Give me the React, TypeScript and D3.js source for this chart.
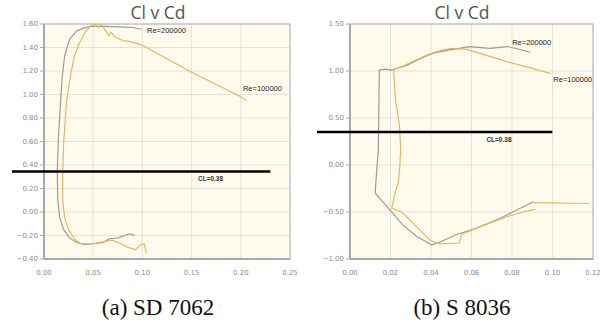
import * as d3 from "d3";

type Pt = [number, number] | null;

// SD 7062 polars (Cd, Cl)
const sdRe200k: Pt[] = [
  [0.099, 1.555], [0.09, 1.57], [0.075, 1.575], [0.06, 1.58], [0.048, 1.58],
  [0.04, 1.565], [0.033, 1.54], [0.026, 1.47], [0.021, 1.33], [0.0185, 1.15],
  [0.0165, 0.9], [0.0145, 0.6], [0.0135, 0.35], [0.014, 0.1], [0.016, -0.05],
  [0.02, -0.15], [0.026, -0.22], [0.033, -0.26], [0.04, -0.275], [0.05, -0.27],
  [0.06, -0.26], [0.066, -0.23], [0.075, -0.22], [0.082, -0.2], [0.087, -0.185], [0.092, -0.2],
];
const sdRe100k: Pt[] = [
  [0.206, 0.95], [0.2, 0.98], [0.15, 1.19], [0.1, 1.42], [0.088, 1.45], [0.08, 1.46],
  [0.072, 1.49], [0.068, 1.53], [0.066, 1.5], [0.062, 1.55], [0.058, 1.6], [0.055, 1.57],
  [0.052, 1.6], [0.047, 1.58], [0.042, 1.53], [0.036, 1.44], [0.031, 1.33], [0.027, 1.17],
  [0.023, 0.95], [0.02, 0.6], [0.019, 0.3], [0.019, 0.1], [0.021, -0.05], [0.025, -0.15],
  [0.031, -0.23], [0.037, -0.27], [0.05, -0.27], [0.062, -0.25], [0.07, -0.24],
  [0.078, -0.27], [0.085, -0.3], [0.093, -0.32], [0.098, -0.28], [0.102, -0.27], [0.104, -0.35],
];

// S 8036 polars (Cd, Cl)
const sRe200k: Pt[] = [
  [0.089, 1.2], [0.082, 1.24], [0.0775, 1.26], [0.069, 1.24], [0.059, 1.26], [0.054, 1.24],
  [0.0478, 1.22], [0.041, 1.19], [0.0346, 1.13], [0.028, 1.06], [0.0206, 1.01], [0.0173, 1.02],
  [0.0145, 1.01], [0.0143, 0.69], [0.014, 0.16], [0.0132, -0.05], [0.0124, -0.3],
  [0.0198, -0.48], [0.0262, -0.64], [0.033, -0.76], [0.0404, -0.85], [0.0445, -0.82],
  [0.0527, -0.74], [0.0626, -0.67], [0.074, -0.57], [0.0906, -0.39],
];
const sRe100k: Pt[] = [
  [0.099, 0.975], [0.0775, 1.1], [0.0577, 1.23], [0.05, 1.24], [0.045, 1.22], [0.038, 1.17],
  [0.031, 1.1], [0.026, 1.05], [0.022, 1.02], [0.0215, 1.0], [0.0225, 0.69], [0.0245, 0.41],
  [0.025, 0.16], [0.0245, -0.05], [0.0238, -0.19], [0.0222, -0.3], [0.0206, -0.46],
  [0.0256, -0.5], [0.033, -0.66], [0.0396, -0.8], [0.0445, -0.84], [0.054, -0.83],
  [0.055, -0.74], [0.064, -0.66], [0.0775, -0.55], [0.0856, -0.5], [0.0915, -0.47],
  null, [0.0906, -0.4], [0.118, -0.41],
];

const sdXTicks = [0, 0.05, 0.1, 0.15, 0.2, 0.25];
const sdYTicks = [-0.4, -0.2, 0, 0.2, 0.4, 0.6, 0.8, 1.0, 1.2, 1.4, 1.6];
const sXTicks = [0, 0.02, 0.04, 0.06, 0.08, 0.1, 0.12];
const sYTicks = [-1, -0.5, 0, 0.5, 1, 1.5];

const grey = "#9a9a8a";
const orange = "#e9b35e";

type Label = { text: string; x: number; y: number };
type ChartProps = {
  left: number;
  right: number;
  xTicks: number[];
  yTicks: number[];
  series: { data: Pt[]; color: string }[];
  labels: Label[];
  clLine: { y: number; x0: number; x1: number };
  titleX: number;
  caption: string;
};

const top = 24;
const bottom = 259;
const fmt = d3.format(".2f");

function Chart({ left, right, xTicks, yTicks, series, labels, clLine, titleX, caption }: ChartProps) {
  const x = d3.scaleLinear().domain(d3.extent(xTicks) as [number, number]).range([left, right]);
  const y = d3.scaleLinear().domain(d3.extent(yTicks) as [number, number]).range([bottom, top]);
  const line = d3
    .line<Pt>()
    .defined((d) => d !== null)
    .x((d) => x(d![0]))
    .y((d) => y(d![1]));
  const tickFont = { fontFamily: "DejaVu Sans", fontSize: 7, fill: "#8c8c8c" };
  return (
    <g>
      <text x={titleX} y={19} textAnchor="middle" fontFamily="Open Sans" fontSize={17.5} fill="#555">
        Cl v Cd
      </text>
      <rect x={left} y={top} width={right - left} height={bottom - top} fill="#fffbec" />
      {xTicks.slice(1, -1).map((t) => (
        <line key={"gx" + t} x1={x(t)} x2={x(t)} y1={top} y2={bottom} stroke="#dcdcd6" strokeWidth={0.8} />
      ))}
      {yTicks.slice(1, -1).map((t) => (
        <line key={"gy" + t} x1={left} x2={right} y1={y(t)} y2={y(t)} stroke="#dcdcd6" strokeWidth={0.8} />
      ))}
      <rect x={left} y={top} width={right - left} height={bottom - top} fill="none" stroke="#b4b4b4" strokeWidth={1.2} />
      <line x1={left} x2={left} y1={top} y2={bottom} stroke="#a8a8a8" strokeWidth={2} />
      <line x1={left} x2={right} y1={bottom} y2={bottom} stroke="#a8a8a8" strokeWidth={2} />
      {yTicks.map((t) => (
        <g key={"ty" + t}>
          <line x1={left - 4} x2={left} y1={y(t)} y2={y(t)} stroke="#aaa" strokeWidth={1} />
          <text x={left - 6} y={y(t)} dy="0.35em" textAnchor="end" {...tickFont}>
            {fmt(t)}
          </text>
        </g>
      ))}
      {xTicks.map((t) => (
        <text key={"tx" + t} x={x(t)} y={bottom + 16} textAnchor="middle" {...tickFont}>
          {fmt(t)}
        </text>
      ))}
      {series.map((s, i) => (
        <path key={i} d={line(s.data) || ""} fill="none" stroke={s.color} strokeWidth={1.15} strokeLinejoin="round" />
      ))}
      <line x1={x(clLine.x0)} x2={x(clLine.x1)} y1={y(clLine.y)} y2={y(clLine.y)} stroke="#000" strokeWidth={2.5} />
      <text x={x(clLine.x0) + (x(clLine.x1) - x(clLine.x0)) * 0.72} y={y(clLine.y) + 10}
        fontFamily="Liberation Sans" fontSize={6.5} fontWeight="bold" fill="#333">
        CL=0.38
      </text>
      {labels.map((l) => (
        <text key={l.text} x={x(l.x)} y={y(l.y)} fontFamily="Liberation Sans" fontSize={7.5} fill="#222">
          {l.text}
        </text>
      ))}
      <text x={titleX} y={315} textAnchor="middle" fontFamily="Liberation Serif" fontSize={23} fill="#111">
        {caption}
      </text>
    </g>
  );
}

export default function App() {
  return (
    <svg width={608} height={324} style={{ position: "absolute", left: 0, top: 0, background: "#fff" }}>
      <Chart
        left={44}
        right={290}
        xTicks={sdXTicks}
        yTicks={sdYTicks}
        series={[
          { data: sdRe200k, color: grey },
          { data: sdRe100k, color: orange },
        ]}
        labels={[
          { text: "Re=200000", x: 0.1047, y: 1.523 },
          { text: "Re=100000", x: 0.2022, y: 1.03 },
        ]}
        clLine={{ y: 0.345, x0: -0.0325, x1: 0.23 }}
        titleX={158}
        caption="(a) SD 7062"
      />
      <Chart
        left={350}
        right={593}
        xTicks={sXTicks}
        yTicks={sYTicks}
        series={[
          { data: sRe200k, color: grey },
          { data: sRe100k, color: orange },
        ]}
        labels={[
          { text: "Re=200000", x: 0.0801, y: 1.277 },
          { text: "Re=100000", x: 0.1004, y: 0.883 },
        ]}
        clLine={{ y: 0.35, x0: -0.0163, x1: 0.0999 }}
        titleX={462}
        caption="(b) S 8036"
      />
    </svg>
  );
}
